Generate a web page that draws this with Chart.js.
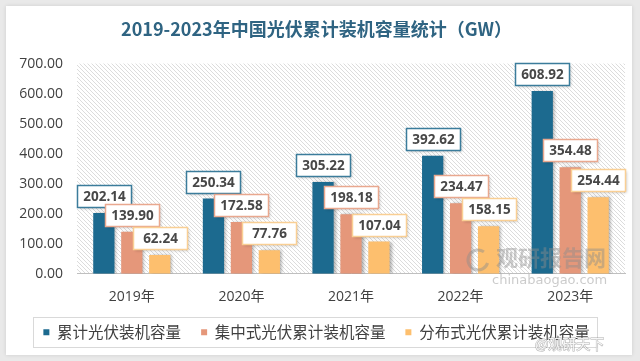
<!DOCTYPE html>
<html>
<head>
<meta charset="utf-8">
<script src="https://cdn.jsdelivr.net/npm/chart.js@4.4.1/dist/chart.umd.min.js"></script>
<style>
  html, body { margin: 0; padding: 0; background: #e9e9e9; }
  #wrap { width: 640px; height: 361px; }
</style>
</head>
<body>
<div id="wrap"><canvas id="barChart" width="640" height="361"></canvas></div>
<script>
        // data
        const years = ['2019年', '2020年', '2021年', '2022年', '2023年'];
        const totalCap = [202.14, 250.34, 305.22, 392.62, 608.92];
        const centralCap = [139.90, 172.58, 198.18, 234.47, 354.48];
        const distCap = [62.24, 77.76, 107.04, 158.15, 254.44];
        const seriesNames = ['累计光伏装机容量', '集中式光伏累计装机容量', '分布式光伏累计装机容量'];

        const barColors = ['#1c6a8f', '#e5977a', '#fdbf6e'];
        const boxBorders = ['#3b7c9b', '#e9a88f', '#f9cf94'];

        // card + hatched plot background
        const backdrop = {
            id: 'backdrop',
            beforeDraw(chart) {
                const ctx = chart.ctx;
                const a = chart.chartArea;
                ctx.save();
                ctx.fillStyle = '#e9e9e9';
                ctx.fillRect(0, 0, chart.width, chart.height);
                ctx.shadowColor = 'rgba(0,0,0,0.12)';
                ctx.shadowBlur = 4;
                ctx.fillStyle = '#ffffff';
                ctx.fillRect(6, 6, 626, 349);
                ctx.shadowColor = 'transparent';

                const p = document.createElement('canvas');
                p.width = 4; p.height = 4;
                const pc = p.getContext('2d');
                pc.fillStyle = '#ffffff';
                pc.fillRect(0, 0, 4, 4);
                pc.strokeStyle = '#dcdcdc';
                pc.lineWidth = 1;
                pc.beginPath();
                pc.moveTo(-1, -1); pc.lineTo(5, 5);
                pc.moveTo(-1, 3); pc.lineTo(1, 5);
                pc.moveTo(3, -1); pc.lineTo(5, 1);
                pc.stroke();
                ctx.fillStyle = ctx.createPattern(p, 'repeat');
                ctx.fillRect(a.left, a.top, a.right - a.left, a.bottom - a.top);
                ctx.restore();
            },
            beforeDatasetsDraw(chart) {
                const ctx = chart.ctx;
                ctx.save();
                ctx.shadowColor = 'rgba(0,0,0,0.3)';
                ctx.shadowBlur = 3;
                ctx.shadowOffsetX = 2;
                ctx.shadowOffsetY = 0;
            },
            afterDatasetsDraw(chart) {
                chart.ctx.restore();
            }
        };

        // value boxes above bars
        const valueBoxes = {
            id: 'valueBoxes',
            afterDatasetsDraw(chart) {
                const ctx = chart.ctx;
                ctx.save();
                ctx.font = 'bold 13.5px "Open Sans"';
                ctx.textAlign = 'center';
                ctx.textBaseline = 'middle';
                chart.data.datasets.forEach((ds, i) => {
                    const meta = chart.getDatasetMeta(i);
                    meta.data.forEach((bar, j) => {
                        const w = 54, h = 22;
                        const x = Math.round(bar.x - w / 2) + 0.5;
                        const y = Math.round(bar.y - 6 - h) + 0.5;
                        ctx.shadowColor = 'rgba(0,0,0,0.25)';
                        ctx.shadowBlur = 3;
                        ctx.shadowOffsetX = 1;
                        ctx.shadowOffsetY = 1;
                        ctx.fillStyle = '#ffffff';
                        ctx.fillRect(x, y, w, h);
                        ctx.shadowColor = 'transparent';
                        ctx.strokeStyle = boxBorders[i];
                        ctx.lineWidth = 1.5;
                        ctx.strokeRect(x, y, w, h);
                        ctx.fillStyle = '#474747';
                        ctx.fillText(ds.data[j].toFixed(2), x + w / 2, y + h / 2 + 1);
                    });
                });
                ctx.restore();
            }
        };

        // border round the legend + watermark
        const extras = {
            id: 'extras',
            afterDraw(chart) {
                const ctx = chart.ctx;
                const lg = chart.legend;
                ctx.save();
                if (lg && lg.legendHitBoxes.length) {
                    const boxes = lg.legendHitBoxes;
                    const l = boxes[0].left - 10;
                    const r = boxes[boxes.length - 1].left + boxes[boxes.length - 1].width + 8;
                    const t = boxes[0].top + boxes[0].height / 2 - 15;
                    ctx.strokeStyle = '#d9d9d9';
                    ctx.lineWidth = 1;
                    ctx.strokeRect(Math.round(l) + 0.5, Math.round(t) + 0.5, Math.round(r - l), 30);
                }
                ctx.fillStyle = 'rgba(140,140,140,0.45)';
                ctx.font = 'bold 22px "Noto Sans CJK SC"';
                ctx.textBaseline = 'middle';
                ctx.fillText('观研报告网', 496, 258);
                ctx.font = '13px "DejaVu Sans"';
                ctx.fillText('chinabaogao.com', 492, 281);
                ctx.strokeStyle = 'rgba(140,140,140,0.45)';
                ctx.lineWidth = 3;
                ctx.beginPath();
                ctx.arc(478, 260, 10, 0.3, Math.PI * 1.7);
                ctx.stroke();
                ctx.font = '14px "Noto Sans CJK SC"';
                ctx.fillStyle = 'rgba(255,255,255,0.9)';
                ctx.strokeStyle = 'rgba(120,120,120,0.6)';
                ctx.lineWidth = 1;
                ctx.strokeText('@观研天下', 535, 344);
                ctx.fillText('@观研天下', 535, 344);
                ctx.restore();
            }
        };

        const ctx = document.getElementById('barChart').getContext('2d');
        new Chart(ctx, {
            type: 'bar',
            data: {
                labels: years,
                datasets: [{
                    label: seriesNames[0],
                    data: totalCap,
                    backgroundColor: barColors[0]
                }, {
                    label: seriesNames[1],
                    data: centralCap,
                    backgroundColor: barColors[1]
                }, {
                    label: seriesNames[2],
                    data: distCap,
                    backgroundColor: barColors[2]
                }]
            },
            options: {
                responsive: false,
                animation: false,
                devicePixelRatio: 1,
                categoryPercentage: 0.765,
                barPercentage: 0.76,
                layout: { padding: { top: 18, left: 8, right: 15, bottom: 11 } },
                plugins: {
                    title: {
                        display: true,
                        text: '2019-2023年中国光伏累计装机容量统计（GW）',
                        color: '#2f6482',
                        font: { size: 18, weight: 'bold', family: '"Noto Sans CJK SC"' },
                        padding: { top: 0, bottom: 24 }
                    },
                    legend: {
                        position: 'bottom',
                        labels: {
                            color: '#404040',
                            font: { size: 15.5, family: '"Noto Sans CJK SC"' },
                            boxWidth: 6,
                            boxHeight: 6,
                            padding: 20
                        }
                    },
                    tooltip: { enabled: false }
                },
                scales: {
                    x: {
                        grid: { display: false },
                        border: { color: '#bfbfbf' },
                        afterFit(scale) { scale.height -= 8; },
                        ticks: {
                            color: '#404040',
                            font: { size: 14, family: '"Open Sans", "Noto Sans CJK SC"' },
                            padding: 7
                        }
                    },
                    y: {
                        min: 0,
                        max: 700,
                        grid: { display: false, drawTicks: false },
                        border: { display: false },
                        afterFit(scale) { scale.width = 69; },
                        ticks: {
                            stepSize: 100,
                            color: '#404040',
                            font: { size: 14, family: '"Open Sans"' },
                            padding: 14,
                            callback: v => v.toFixed(2)
                        }
                    }
                }
            },
            plugins: [backdrop, valueBoxes, extras]
        });
</script>
</body>
</html>
